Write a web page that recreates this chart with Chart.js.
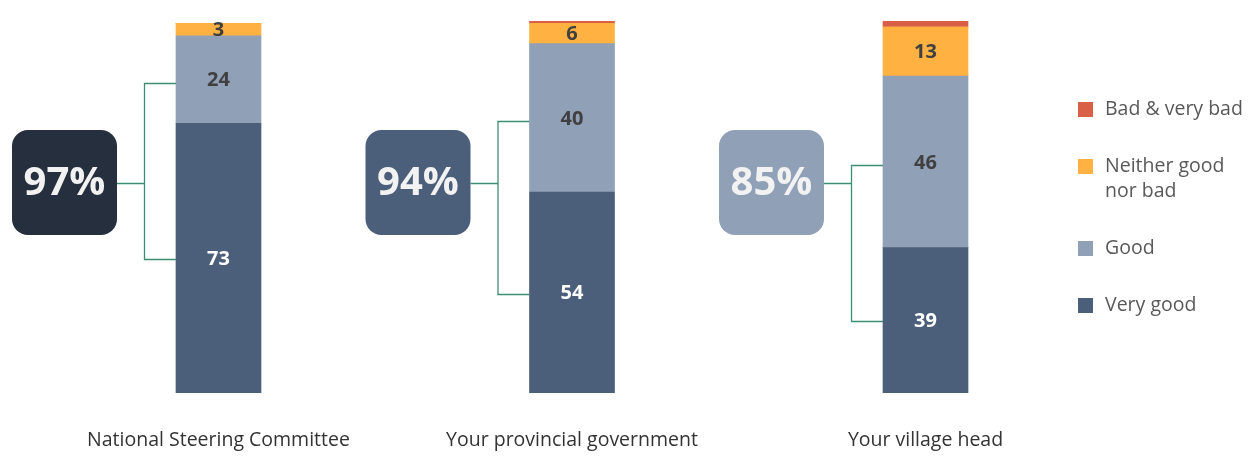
<!DOCTYPE html>
<html>
<head>
<meta charset="utf-8">
<script src="https://cdn.jsdelivr.net/npm/chart.js@4.4.1/dist/chart.umd.min.js"></script>
<style>
  html, body { margin: 0; padding: 0; background: #ffffff; }
  #wrap { width: 1248px; height: 468px; position: relative; }
</style>
</head>
<body>
<div id="wrap"><canvas id="c" width="1248" height="468"></canvas></div>
<script>
// ---- data ----
const categories = ['National Steering Committee', 'Your provincial government', 'Your village head'];
const seriesNames = ['Very good', 'Good', 'Neither good nor bad', 'Bad & very bad'];
const veryGood = [72.5, 54.0, 39.1];
const good = [23.5, 39.9, 46.1];
const neither = [3.4, 5.5, 13.2];
const bad = [0, 0.6, 1.6];
const positiveShare = [97, 94, 85];
const yTicks = [0, 100];

// ---- styles ----
const colors = ['#4c5f7a', '#8fa0b7', '#ffb142', '#da5f47'];
const badgeColors = ['#262f3d', '#4c5f7a', '#8fa0b7'];
const labelColors = ['#ffffff', '#404040', '#404040', null];
const bracketColor = '#3d8f72';
const FONT = '"Open Sans", "Noto Sans", sans-serif';

const seriesValues = [veryGood, good, neither, bad];

const overlay = {
  id: 'overlay',
  afterDatasetsDraw(chart) {
    const ctx = chart.ctx;
    // segment value labels
    ctx.save();
    ctx.font = 'bold 20px ' + FONT;
    ctx.textAlign = 'center';
    ctx.textBaseline = 'middle';
    chart.data.datasets.forEach((ds, di) => {
      if (!labelColors[di]) return;
      const meta = chart.getDatasetMeta(di);
      meta.data.forEach((el, i) => {
        const v = ds.data[i];
        if (!v) return;
        ctx.fillStyle = labelColors[di];
        ctx.fillText(String(Math.round(v)), el.x, (el.y + el.base) / 2 + 1);
      });
    });
    ctx.restore();

    // badges and brackets
    const metaVG = chart.getDatasetMeta(0);
    const metaG = chart.getDatasetMeta(1);
    metaVG.data.forEach((el, i) => {
      const left = el.x - el.width / 2;
      const gEl = metaG.data[i];
      const yTop = (gEl.y + gEl.base) / 2 + 3;
      const yBot = (el.y + el.base) / 2 + 1;
      const bx = left - 32;
      const size = 105;
      const bRight = left - 59;
      const bLeft = bRight - size;
      const bTop = 130;
      const cy = bTop + size / 2;

      // bracket
      ctx.save();
      ctx.strokeStyle = bracketColor;
      ctx.lineWidth = 1.3;
      ctx.beginPath();
      ctx.moveTo(left, Math.round(yTop) + 0.5);
      ctx.lineTo(bx + 0.5, Math.round(yTop) + 0.5);
      ctx.lineTo(bx + 0.5, Math.round(yBot) + 0.5);
      ctx.lineTo(left, Math.round(yBot) + 0.5);
      ctx.moveTo(bRight, Math.round(cy) + 0.5);
      ctx.lineTo(bx + 0.5, Math.round(cy) + 0.5);
      ctx.stroke();
      ctx.restore();

      // badge
      ctx.save();
      ctx.fillStyle = badgeColors[i];
      ctx.beginPath();
      if (ctx.roundRect) {
        ctx.roundRect(bLeft, bTop, size, size, 16);
      } else {
        ctx.rect(bLeft, bTop, size, size);
      }
      ctx.fill();
      ctx.fillStyle = '#f2f2f2';
      ctx.font = 'bold 40px ' + FONT;
      ctx.textAlign = 'center';
      ctx.textBaseline = 'middle';
      ctx.fillText(positiveShare[i] + '%', bLeft + size / 2, cy + 1);
      ctx.restore();
    });
  },
  afterDraw(chart) {
    // custom legend (reverse order)
    const ctx = chart.ctx;
    const ca = chart.chartArea;
    ctx.save();
    ctx.font = '19.5px ' + FONT;
    ctx.textBaseline = 'middle';
    ctx.textAlign = 'left';
    const sqX = 1078, txtX = 1105, maxW = 140;
    const items = chart.data.datasets.map((ds, i) => ({ label: ds.label, color: ds.backgroundColor })).reverse();
    const wrapped = items.map(it => {
      const words = it.label.split(' ');
      const lines = [];
      let cur = '';
      words.forEach(w => {
        const t = cur ? cur + ' ' + w : w;
        if (ctx.measureText(t).width > maxW && cur) { lines.push(cur); cur = w; }
        else cur = t;
      });
      lines.push(cur);
      return lines;
    });
    const step = 57, lineH = 25;
    let total = 0;
    wrapped.forEach((l, i) => { if (i < wrapped.length - 1) total += step + (l.length - 1) * lineH; });
    let y = (ca.top + ca.bottom) / 2 - total / 2;
    items.forEach((it, i) => {
      ctx.fillStyle = it.color;
      ctx.fillRect(sqX, Math.round(y - 7.5), 15, 15);
      ctx.fillStyle = '#595959';
      wrapped[i].forEach((ln, k) => ctx.fillText(ln, txtX, y + k * lineH));
      y += step + (wrapped[i].length - 1) * lineH;
    });
    ctx.restore();
  }
};

const datasets = seriesValues.map((vals, i) => ({
  label: seriesNames[i],
  data: vals,
  backgroundColor: colors[i],
  borderWidth: 0,
  barThickness: 85
}));

new Chart(document.getElementById('c'), {
  type: 'bar',
  data: { labels: categories, datasets },
  options: {
    responsive: false,
    animation: false,
    devicePixelRatio: 1,
    layout: { padding: { left: 41.75, right: 145.75, top: 21, bottom: 0 } },
    plugins: { legend: { display: false }, tooltip: { enabled: false } },
    scales: {
      x: {
        stacked: true,
        grid: { display: false, drawTicks: false },
        border: { display: false },
        ticks: { color: '#333333', font: { family: FONT, size: 19.5 }, padding: 36, maxRotation: 0 },
        afterFit(scale) { scale.height = 75; }
      },
      y: {
        stacked: true,
        display: false,
        min: yTicks[0],
        max: yTicks[1]
      }
    }
  },
  plugins: [overlay]
});
</script>
</body>
</html>
